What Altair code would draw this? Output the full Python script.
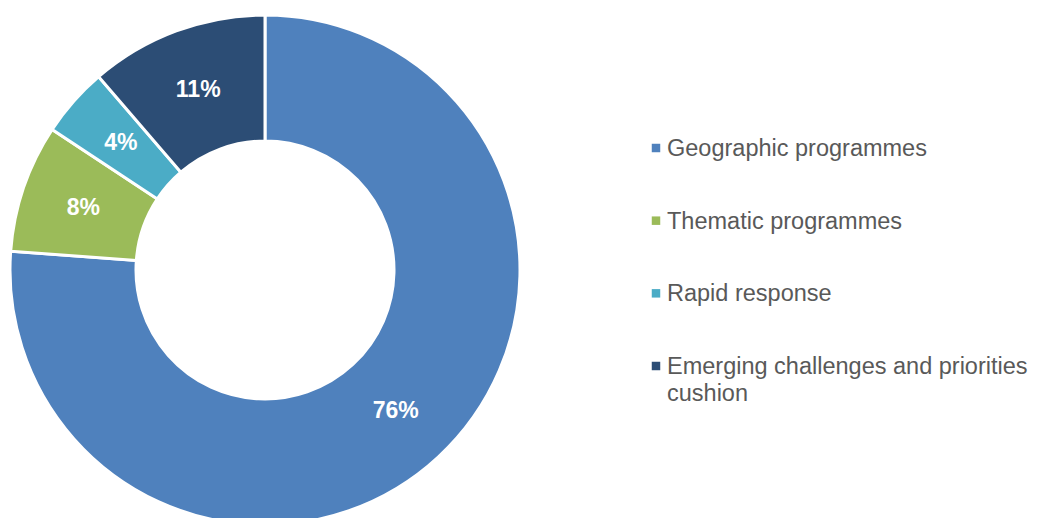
import altair as alt
import pandas as pd

categories = ["Geographic programmes", "Thematic programmes", "Rapid response",
              "Emerging challenges and priorities cushion"]
legend_text = ["Geographic programmes", "Thematic programmes", "Rapid response",
               "Emerging challenges and priorities\ncushion"]
values = [76.1, 8.1, 4.4, 11.3]
labels = ["76%", "8%", "4%", "11%"]
colors = ["#4F81BD", "#9BBB59", "#4BACC6", "#2C4D75"]
order = [0, 1, 2, 3]

df = pd.DataFrame({
    "category": categories,
    "value": values,
    "label": labels,
    "idx": order,
    "legend": legend_text,
})

color_scale = alt.Scale(domain=categories, range=colors)
FONT = "Liberation Sans"

base = alt.Chart(df)

arcs = base.mark_arc(outerRadius=255, innerRadius=129, stroke="white", strokeWidth=3).encode(
    theta=alt.Theta("value:Q", stack=True),
    color=alt.Color("category:N", scale=color_scale, legend=None),
    order=alt.Order("idx:Q"),
    x=alt.value(257),
    y=alt.value(262),
)

pct = base.mark_text(radius=192, font=FONT, fontSize=23, fontWeight="bold",
                     color="white", align="center", baseline="middle").encode(
    theta=alt.Theta("value:Q", stack=True),
    detail="category:N",
    order=alt.Order("idx:Q"),
    text="label:N",
    x=alt.value(257),
    y=alt.value(262),
)

ypos = alt.Y("idx:Q", scale=alt.Scale(domain=[0, 3], range=[140, 358]), axis=None)

leg_sq = base.mark_square(size=72, opacity=1).encode(
    x=alt.value(648),
    y=ypos,
    color=alt.Color("category:N", scale=color_scale, legend=None),
)

leg_txt = base.mark_text(font=FONT, fontSize=23.5, color="#595959", align="left",
                         baseline="alphabetic", dy=8, lineBreak="\n", lineHeight=27).encode(
    x=alt.value(659),
    y=ypos,
    text="legend:N",
)

chart = alt.layer(arcs, pct, leg_sq, leg_txt).properties(
    width=1021, height=510, autosize=alt.AutoSizeParams(type="none"), padding=0
).configure_view(stroke=None)

chart.save("out.html", embed_options={"renderer": "svg", "actions": False})
